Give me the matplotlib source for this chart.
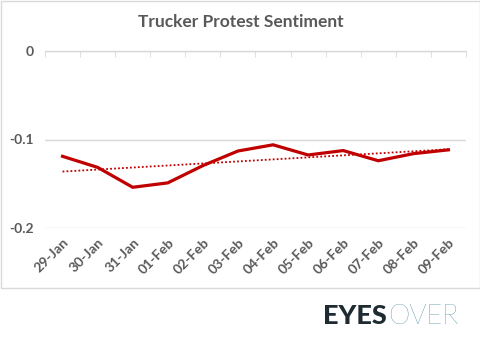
import matplotlib.pyplot as plt
import numpy as np
from matplotlib.patches import Rectangle

dates = ["29-Jan", "30-Jan", "31-Jan", "01-Feb", "02-Feb", "03-Feb",
         "04-Feb", "05-Feb", "06-Feb", "07-Feb", "08-Feb", "09-Feb"]
sentiment = [-0.119, -0.1315, -0.154, -0.149, -0.1295, -0.113,
             -0.106, -0.1175, -0.1125, -0.124, -0.116, -0.1117]

W, H = 481, 343
fig = plt.figure(figsize=(W / 100, H / 100), dpi=100)
fig.patches.append(Rectangle((0.5 / W, 1 - 288 / H), 479.5 / W, 287.5 / H,
                             transform=fig.transFigure, fill=False,
                             edgecolor="#d9d9d9", linewidth=1))

ax = fig.add_axes([45 / W, 1 - 228 / H, 421 / W, 177 / H])
x = np.arange(len(dates))
ax.plot(x, sentiment, color="#c00000", linewidth=2.3, solid_joinstyle="miter")

# linear trendline
k, b = np.polyfit(x, sentiment, 1)
ax.plot(x, k * x + b, color="#c00000", linewidth=1.3, linestyle=(0, (1, 1.2)))

ax.set_xlim(-0.5, len(dates) - 0.5)
ax.set_ylim(-0.2, 0)
ax.set_yticks([0, -0.1, -0.2])
ax.set_yticklabels(["0", "-0.1", "-0.2"])
ax.yaxis.grid(True, color="#d9d9d9", linewidth=1)
ax.set_axisbelow(True)

for s in ["left", "right", "bottom"]:
    ax.spines[s].set_visible(False)
ax.spines["top"].set_color("#d9d9d9")
ax.spines["top"].set_linewidth(1)

ax.set_xticks(x)
ax.set_xticklabels(dates, rotation=45, ha="right", rotation_mode="anchor")
ax.set_xticks(np.arange(-0.5, len(dates)), minor=True)
ax.tick_params(axis="x", which="major", length=0, pad=6,
               labelsize=10, labelcolor="#595959")
ax.tick_params(axis="x", which="minor", top=True, bottom=False,
               direction="in", length=4, color="#d9d9d9")
ax.tick_params(axis="y", length=0, pad=8, labelsize=10, labelcolor="#595959")
for lab in ax.get_xticklabels() + ax.get_yticklabels():
    lab.set_fontweight("bold")
    lab.set_family("Lato")

fig.text(0.5, 1 - 22 / H, "Trucker Protest Sentiment", ha="center", va="center",
         fontsize=12.5, fontweight="bold", color="#595959", family="Lato")

fig.text(387 / W, 1 - 324 / H, "EYES", ha="right", va="baseline",
         fontsize=19.5, fontweight="black", color="#1e2b33", family="Lato")
fig.text(388 / W, 1 - 324 / H, "OVER", ha="left", va="baseline",
         fontsize=19.5, fontweight="light", color="#1f6b85", family="Lato")

fig.savefig("out.png", dpi=100)
